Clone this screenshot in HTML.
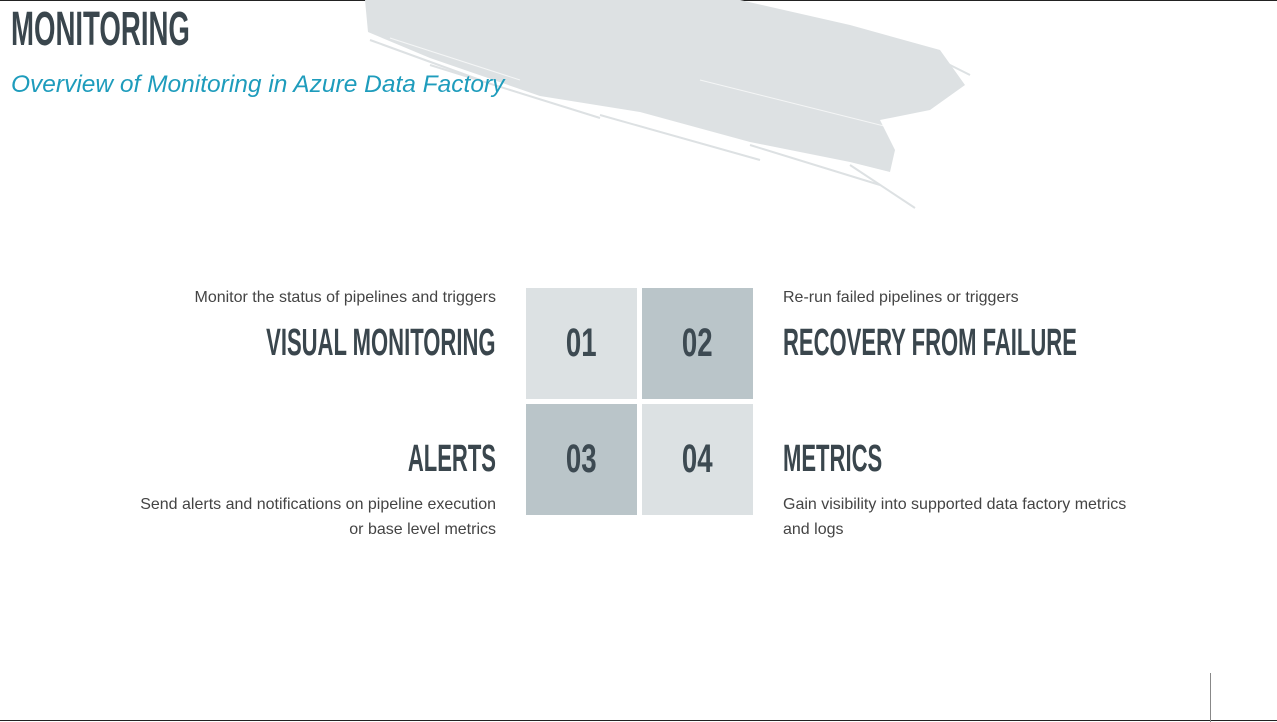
<!DOCTYPE html>
<html><head><meta charset="utf-8">
<style>
html,body{margin:0;padding:0;}
body{width:1277px;height:722px;position:relative;overflow:hidden;background:#fff;font-family:"Liberation Sans",sans-serif;}
.abs{position:absolute;}
.bebas{font-family:"Liberation Sans Narrow","Liberation Sans",sans-serif;font-weight:bold;color:#3a464d;white-space:nowrap;}
.desc{font-size:16px;color:#444;white-space:nowrap;line-height:25px;}
.tile{position:absolute;width:111px;height:111px;display:flex;align-items:center;justify-content:center;}
.tile span{font-family:"Liberation Sans Narrow","Liberation Sans",sans-serif;font-weight:bold;font-size:40px;color:#3d4a52;transform:scaleX(0.69);display:inline-block;}
.l{background:#dce1e3;}.d{background:#bac5c9;}
</style></head><body>
<div class="abs" style="left:0;top:0;width:1277px;height:1px;background:#222;"></div>
<div class="abs" style="left:0;top:720px;width:1277px;height:1px;background:#222;"></div>
<div class="abs" style="left:1210px;top:673px;width:1px;height:49px;background:#888;"></div>
<svg class="abs" style="left:0;top:0" width="1277" height="722">
<polygon fill="#dde1e3" points="365,0 740,0 850,25 940,50 965,85 930,110 880,120 895,150 890,172 850,162 750,142 640,112 540,96 430,58 368,32"/>
<g stroke="#dde1e3" stroke-width="2">
<line x1="850" y1="165" x2="915" y2="208"/><line x1="750" y1="145" x2="880" y2="185"/>
<line x1="370" y1="40" x2="480" y2="80"/><line x1="430" y1="65" x2="600" y2="118"/>
<line x1="600" y1="115" x2="760" y2="160"/><line x1="940" y1="60" x2="970" y2="75"/>
</g>
<g stroke="#fff" stroke-width="1" opacity="0.7">
<line x1="390" y1="38" x2="520" y2="80"/><line x1="700" y1="80" x2="900" y2="130"/>
</g>
</svg>
<div class="abs bebas" style="left:11px;top:2px;font-size:48px;transform:scaleX(0.575);transform-origin:left;">MONITORING</div>
<div class="abs" style="left:11px;top:71px;font-size:24.5px;font-style:italic;color:#1e9cbc;white-space:nowrap;">Overview of Monitoring in Azure Data Factory</div>

<div class="abs desc" style="right:781px;top:285px;text-align:right;">Monitor the status of pipelines and triggers</div>
<div class="abs bebas" style="right:781px;top:322px;font-size:38px;transform:scaleX(0.58);transform-origin:right;">VISUAL MONITORING</div>
<div class="abs bebas" style="right:781px;top:438px;font-size:38px;transform:scaleX(0.58);transform-origin:right;">ALERTS</div>
<div class="abs desc" style="right:781px;top:492px;text-align:right;">Send alerts and notifications on pipeline execution<br>or base level metrics</div>

<div class="abs desc" style="left:783px;top:285px;">Re-run failed pipelines or triggers</div>
<div class="abs bebas" style="left:783px;top:322px;font-size:38px;transform:scaleX(0.58);transform-origin:left;">RECOVERY FROM FAILURE</div>
<div class="abs bebas" style="left:783px;top:438px;font-size:38px;transform:scaleX(0.58);transform-origin:left;">METRICS</div>
<div class="abs desc" style="left:783px;top:492px;">Gain visibility into supported data factory metrics<br>and logs</div>

<div class="tile l" style="left:526px;top:288px;"><span>01</span></div>
<div class="tile d" style="left:642px;top:288px;"><span>02</span></div>
<div class="tile d" style="left:526px;top:404px;"><span>03</span></div>
<div class="tile l" style="left:642px;top:404px;"><span>04</span></div>
</body></html>
